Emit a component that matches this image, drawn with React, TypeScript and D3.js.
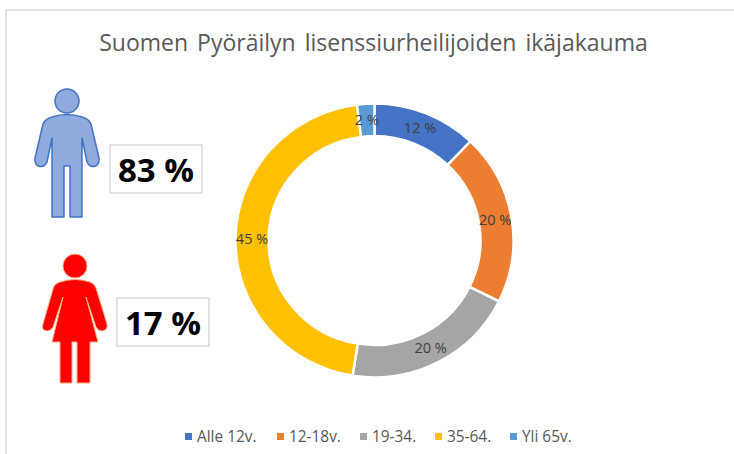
import React from "react";
import * as d3 from "d3";

const categories = ["Alle 12v.", "12-18v.", "19-34.", "35-64.", "Yli 65v."];
const values = [12, 20, 20, 45, 2];
const colors = ["#4472C4", "#ED7D31", "#A5A5A5", "#FFC000", "#5B9BD5"];
const legendX = [197, 289, 372, 447, 522];
const title = "Suomen Pyöräilyn lisenssiurheilijoiden ikäjakauma";
const genderLabels = ["83 %", "17 %"];

const cx = 374.5, cy = 240.5, outer = 139, inner = 106, squash = 0.985;

const manBody = "M43 124 Q45 119 52 117 Q67 112 82 117 Q89 119 91 124 L99 158 Q100 165 94 166.5 Q89 167 87 162 L82 138 L82 217 L70 217 L70 166 L64 166 L64 217 L52 217 L52 138 L47 162 Q45 167 40 166.5 Q34 165 35 158 Z";
const womanBody = "M53 289 Q54 284 60 282 Q75 277 90 282 Q95 284 96 288 L107 324 Q108 330 102 331 Q98 331 96 327 L86 297 L98 342 L90 342 L90 383 L77 383 L77 342 L72 342 L72 383 L60 383 L60 342 L52 342 L63 297 L53 327 Q51 331 47 331 Q41 330 43 324 Z";

export default function App() {
  const pie = d3.pie<number>().sort(null).startAngle(0).endAngle(2 * Math.PI);
  const arcs = pie(values);
  const arc = d3.arc<d3.PieArcDatum<number>>().innerRadius(inner).outerRadius(outer);
  const font = "'Open Sans', sans-serif";
  return (
    <svg width={734} height={454} style={{ position: "absolute", left: 0, top: 0, background: "#fff" }}>
      <line x1={6} y1={10} x2={734} y2={10} stroke="#D9D9D9" strokeWidth={1.5} />
      <line x1={6} y1={10} x2={6} y2={454} stroke="#D9D9D9" strokeWidth={1.5} />
      <text x={373.5} y={51} textAnchor="middle" fontFamily={font} fontSize={23} fill="#595959" wordSpacing={3}>{title}</text>

      <circle cx={67} cy={101} r={12} fill="#8FAADC" stroke="#4472C4" strokeWidth={1.5} />
      <path d={manBody} fill="#8FAADC" stroke="#4472C4" strokeWidth={1.5} strokeLinejoin="round" />
      <rect x={110} y={145} width={92} height={48} fill="#fff" stroke="#D9D9D9" strokeWidth={1.5} />
      <text x={156} y={182} textAnchor="middle" fontFamily={font} fontWeight={700} fontSize={33} fill="#000">{genderLabels[0]}</text>

      <circle cx={75} cy={266} r={12} fill="#FF0000" stroke="#F4B183" strokeWidth={1} />
      <path d={womanBody} fill="#FF0000" stroke="#F4B183" strokeWidth={1} strokeLinejoin="round" />
      <rect x={117} y={298} width={92} height={48} fill="#fff" stroke="#D9D9D9" strokeWidth={1.5} />
      <text x={163} y={335} textAnchor="middle" fontFamily={font} fontWeight={700} fontSize={33} fill="#000">{genderLabels[1]}</text>

      <g transform={`translate(${cx},${cy}) scale(1,${squash})`}>
        {arcs.map((d, i) => (
          <path key={i} d={arc(d) ?? ""} fill={colors[i]} stroke="#fff" strokeWidth={2.5} />
        ))}
      </g>
      <g transform={`translate(${cx},${cy})`}>
        {arcs.map((d, i) => {
          const [x, y] = arc.centroid(d);
          return (
            <text key={i} x={x} y={y * squash + 5} textAnchor="middle" fontFamily={font} fontSize={14.5} fill="#404040">{values[i]} %</text>
          );
        })}
      </g>

      {categories.map((c, i) => (
        <g key={c}>
          <rect x={legendX[i] - 12} y={433} width={7} height={7} fill={colors[i]} />
          <text x={legendX[i]} y={441.5} fontFamily={font} fontSize={15.4} fill="#595959">{c}</text>
        </g>
      ))}
    </svg>
  );
}
